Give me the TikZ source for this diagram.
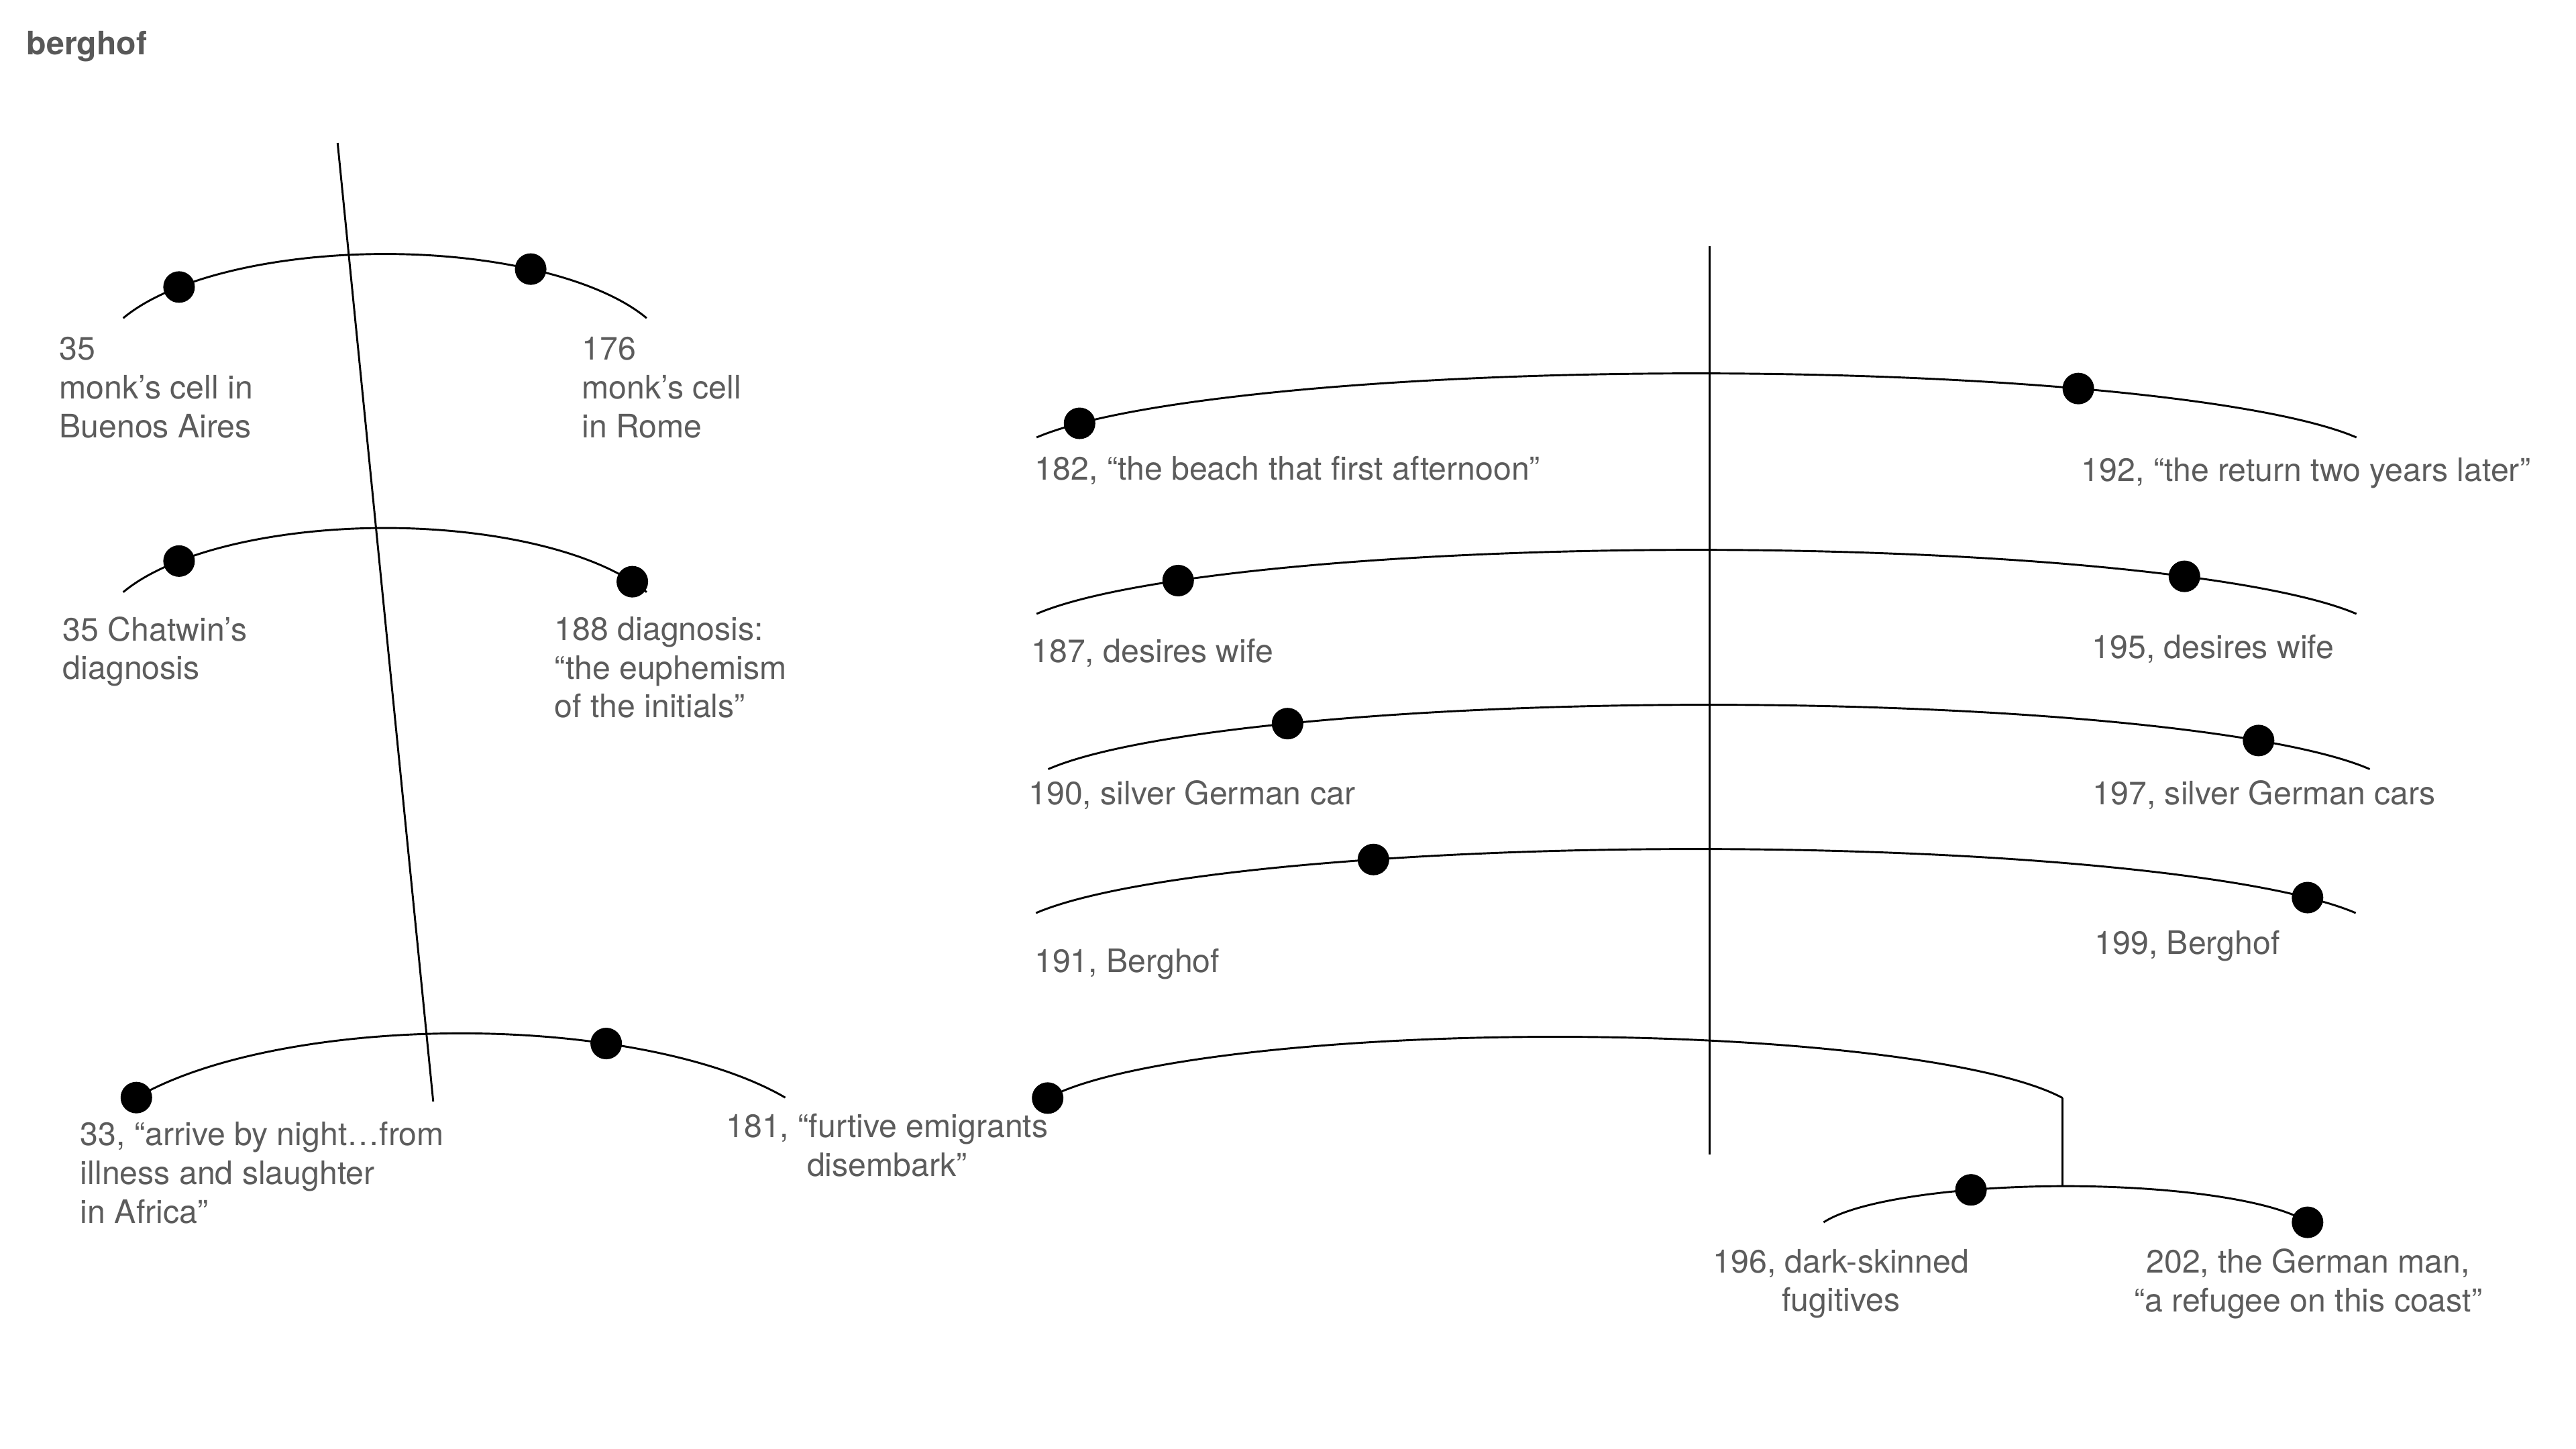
\documentclass[tikz,border=0pt]{standalone}
\usepackage{fontspec}
\setmainfont{TeX Gyre Heros}
\usepackage{xcolor}
\usetikzlibrary{calc}
\definecolor{notegray}{RGB}{92,92,92}
\definecolor{titlegray}{RGB}{88,88,88}
\tikzset{
  thread/.style={line width=0.85pt},
  spine/.style={line width=0.85pt},
  beat/.style={circle,fill=black,inner sep=0pt,minimum size=0.48cm},
  note/.style={text=notegray,font=\fontsize{14}{16.8}\selectfont,inner sep=0pt,align=left,anchor=north west},
  notec/.style={note,align=center,anchor=north},
  heading/.style={text=titlegray,font=\fontsize{14}{17}\selectfont\bfseries,inner sep=0pt,anchor=base west}
}

\begin{document}
\begin{tikzpicture}[x=0.025cm,y=-0.025cm]
  \useasboundingbox (0,0) rectangle (1568,882);
  \node[heading] (title) at (16,33.4) {berghof};

  % left spine and its three arcs (centres of the ellipses)
  \coordinate (spineL-top) at (205.5,87);
  \coordinate (spineL-bot) at (263.7,670.5);
  \coordinate (cell-c) at (234.3,221.2);
  \coordinate (diag-c) at (234.3,388.0);
  \coordinate (night-c) at (280.5,709.2);
  \draw[spine] (spineL-top) -- (spineL-bot);
  \draw[thread] ($(cell-c)+(204.45:175 and 66.6)$) arc[start angle=204.45,end angle=335.55,x radius=175,y radius=66.6];
  \draw[thread] ($(diag-c)+(204.45:175 and 66.6)$) arc[start angle=204.45,end angle=335.55,x radius=175,y radius=66.6];
  \draw[thread] ($(night-c)+(210.83:230 and 80.2)$) arc[start angle=210.83,end angle=329.17,x radius=230,y radius=80.2];
  \node[beat] (p35cell) at ($(cell-c)+(224.27:175 and 66.6)$) {};
  \node[beat] (p176) at ($(cell-c)+(300.46:175 and 66.6)$) {};
  \node[beat] (p35diag) at ($(diag-c)+(224.27:175 and 66.6)$) {};
  \node[beat] (p188) at ($(diag-c)+(329.38:175 and 66.6)$) {};
  \node[beat] (p33) at ($(night-c)+(210.83:230 and 80.2)$) {};
  \node[beat] (p181) at ($(night-c)+(292.63:230 and 80.2)$) {};

  \node[note] (n35cell) at (35.9,205) {35\\monk’s cell in\\Buenos Aires};
  \node[note] (n176) at (354,205) {176\\monk’s cell\\in Rome};
  \node[note] (n35diag) at (38.1,375) {35 Chatwin’s\\diagnosis};
  \node[note] (n188) at (337.4,375) {188 diagnosis:\\“the euphemism\\of the initials”};
  \node[note] (n33) at (48.7,682.6) {33, “arrive by night…from\\illness and slaughter\\in Africa”};
  \node[notec] (n181) at (540,677.5) {181, “furtive emigrants\\disembark”};

  % right spine and its arcs
  \coordinate (spineR-top) at (1040.5,149.7);
  \coordinate (spineR-bot) at (1040.5,702.6);
  \coordinate (beach-c) at (1032.65,282.3);
  \coordinate (wife-c) at (1032.65,389.7);
  \coordinate (car-c) at (1040.25,484);
  \coordinate (berg-c) at (1032.25,571.8);
  \coordinate (emig-c) at (946.65,683.3);
  \coordinate (flee-c) at (1257.3,753.1);
  \draw[spine] (spineR-top) -- (spineR-bot);
  \draw[thread] ($(beach-c)+(196.97:420 and 55)$) arc[start angle=196.97,end angle=343.03,x radius=420,y radius=55];
  \draw[thread] ($(wife-c)+(196.97:420 and 55)$) arc[start angle=196.97,end angle=343.03,x radius=420,y radius=55];
  \draw[thread] ($(car-c)+(196.72:420 and 55)$) arc[start angle=196.72,end angle=343.28,x radius=420,y radius=55];
  \draw[thread] ($(berg-c)+(196.98:420 and 55)$) arc[start angle=196.98,end angle=343.02,x radius=420,y radius=55];
  \draw[thread] ($(emig-c)+(196.6:322.4 and 52.2)$) coordinate (emig-w) arc[start angle=196.6,end angle=343.4,x radius=322.4,y radius=52.2] coordinate (emig-e);
  \draw[thread] ($(flee-c)+(196.97:154 and 31.1)$) arc[start angle=196.97,end angle=343.03,x radius=154,y radius=31.1];
  \coordinate (flee-top) at ($(flee-c)+(270:154 and 31.1)$);
  \draw[spine] (emig-e) -- (emig-e |- flee-top);
  \node[beat] (p182) at ($(beach-c)+(206.6:420 and 55)$) {};
  \node[beat] (p192) at ($(beach-c)+(303.6:420 and 55)$) {};
  \node[beat] (p187) at ($(wife-c)+(221.3:420 and 55)$) {};
  \node[beat] (p195) at ($(wife-c)+(315.0:420 and 55)$) {};
  \node[beat] (p190) at ($(car-c)+(232.35:420 and 55)$) {};
  \node[beat] (p197) at ($(car-c)+(322.8:420 and 55)$) {};
  \node[beat] (p191) at ($(berg-c)+(242.14:420 and 55)$) {};
  \node[beat] (p199) at ($(berg-c)+(332.44:420 and 55)$) {};
  \node[beat] (p181b) at (emig-w) {};
  \node[beat] (p196) at ($(flee-c)+(248.04:154 and 31.1)$) {};
  \node[beat] (p202) at ($(flee-c)+(343.03:154 and 31.1)$) {};

  \node[note] (n182) at (629.7,277.6) {182, “the beach that first afternoon”};
  \node[note] (n192) at (1266.7,278.4) {192, “the return two years later”};
  \node[note] (n187) at (627.5,388.6) {187, desires wife};
  \node[note] (n195) at (1273.2,386.2) {195, desires wife};
  \node[note] (n190) at (625.9,475) {190, silver German car};
  \node[note] (n197) at (1273.6,475) {197, silver German cars};
  \node[note] (n191) at (629.5,577) {191, Berghof};
  \node[note] (n199) at (1274.8,566.2) {199, Berghof};
  \node[notec] (n196) at (1120.6,760) {196, dark-skinned\\fugitives};
  \node[notec] (n202) at (1404.9,760) {202, the German man,\\“a refugee on this coast”};
\end{tikzpicture}
\end{document}
